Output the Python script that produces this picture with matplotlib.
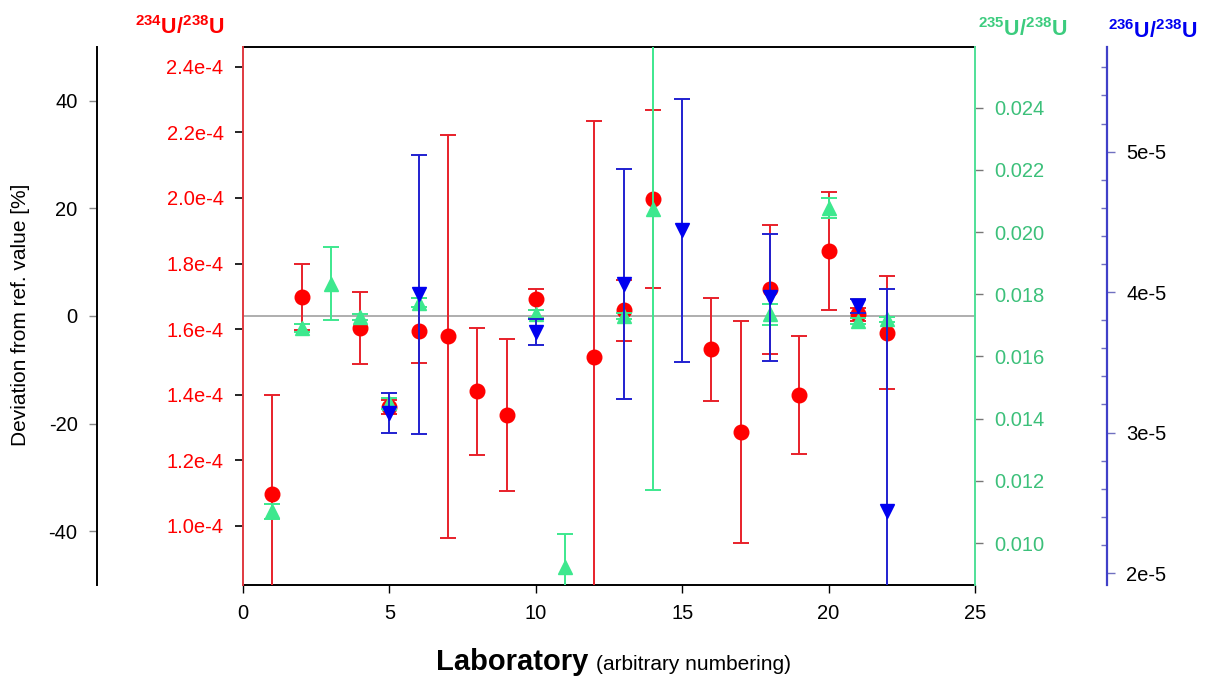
import matplotlib
matplotlib.use('Agg')
import matplotlib.pyplot as plt
import numpy as np
from matplotlib.ticker import FixedLocator, FuncFormatter, MultipleLocator

plt.rcParams['font.family'] = ['Liberation Sans', 'DejaVu Sans']
plt.rcParams['mathtext.fontset'] = 'custom'
plt.rcParams['mathtext.rm'] = 'Liberation Sans:bold'
plt.rcParams['mathtext.bf'] = 'Liberation Sans:bold'
plt.rcParams['axes.unicode_minus'] = False

# deviation from reference value in %, per laboratory
labs_234 = [1, 2, 4, 5, 6, 7, 8, 9, 10, 12, 13, 14, 16, 17, 18, 19, 20, 21, 22]
dev_234 = [-33.1, 3.5, -2.2, -17.0, -2.7, -3.8, -14.0, -18.4, 3.1, -7.6, 1.05, 21.7,
           -6.2, -21.5, 5.0, -14.7, 12.1, 0.3, -3.1]
err_234 = [18.4, 6.1, 6.7, 1.3, 6.0, 37.5, 11.8, 14.2, 1.9, 43.9, 5.7, 16.5,
           9.6, 20.6, 12.0, 11.0, 10.9, 1.2, 10.5]

labs_235 = [1, 2, 3, 4, 5, 6, 10, 11, 13, 14, 18, 20, 21, 22]
dev_235 = [-36.3, -2.2, 6.0, -0.2, -16.2, 2.5, 0.4, -46.6, 0.0, 19.9, 0.3, 20.1, -0.9, -0.6]
err_235 = [1.4, 0.7, 6.8, 0.5, 1.0, 0.8, 0.8, 6.0, 0.6, 52.3, 1.9, 1.85, 0.5, 0.5]

labs_236 = [5, 6, 10, 13, 15, 18, 21, 22]
dev_236 = [-18.0, 4.0, -2.9, 5.9, 15.9, 3.5, 1.9, -36.2]
err_236 = [3.7, 26.0, 2.4, 21.4, 24.4, 11.8, 1.3, 41.3]

# reference ratios (0 % deviation)
ref_234 = 1.64e-4
ref_235 = 0.0173
ref_236 = 3.83e-5

red = '#ff0000'
red_bar = '#e8202a'
green = '#3de88e'
green_txt = '#3cc07a'
blue = '#0000f0'
blue_bar = '#2020d0'
fs = 14.5

fig = plt.figure(figsize=(12.14, 6.8), dpi=100)
ax = fig.add_axes([0.2002, 0.1397, 0.6029, 0.7912])

ax.axhline(0, color='#a8a8a8', lw=1.3, zorder=1)

ax.errorbar(labs_234, dev_234, yerr=err_234, fmt='o', color=red, ecolor=red_bar,
            ms=10.5, capsize=6, elinewidth=1.4, capthick=1.4, zorder=3)
ax.errorbar(labs_235, dev_235, yerr=err_235, fmt='^', color=green, ecolor=green,
            ms=10, capsize=6, elinewidth=1.4, capthick=1.4, zorder=4)
ax.errorbar(labs_236, dev_236, yerr=err_236, fmt='v', color=blue, ecolor=blue_bar,
            ms=10, capsize=6, elinewidth=1.4, capthick=1.4, zorder=5)

ax.set_xlim(0, 25)
ax.set_ylim(-50, 50)
ax.set_xticks(np.arange(0, 26, 5))
ax.set_yticks([-40, -20, 0, 20, 40])
ax.tick_params(axis='both', direction='out', length=6, width=1, labelsize=fs,
               colors='black')
ax.tick_params(axis='y', color='#888888', pad=8)
ax.tick_params(axis='x', pad=8)
ax.spines['right'].set_visible(False)
ax.spines['left'].set_position(('axes', -0.1995))
for s in ['left', 'top', 'bottom']:
    ax.spines[s].set_color('black')
    ax.spines[s].set_linewidth(1.4)

# red axis: 234U/238U
ax2 = ax.twinx()
ax2.set_ylim(ref_234 * 0.5, ref_234 * 1.5)
ax2.yaxis.set_ticks_position('left')
ax2.spines['left'].set_position(('axes', 0))
ax2.yaxis.set_major_locator(FixedLocator(np.arange(1.0e-4, 2.45e-4, 0.2e-4)))
ax2.yaxis.set_major_formatter(FuncFormatter(lambda v, p: '%.1fe-4' % (v * 1e4)))
ax2.tick_params(axis='y', direction='out', length=6, width=1.2, color='black',
                labelcolor=red, labelsize=fs, pad=8)
for s in ['right', 'top', 'bottom']:
    ax2.spines[s].set_visible(False)
ax2.spines['left'].set_color('#e03a40')
ax2.spines['left'].set_linewidth(1.4)

# green axis: 235U/238U
ax3 = ax.twinx()
ax3.set_ylim(ref_235 * 0.5, ref_235 * 1.5)
ax3.yaxis.set_major_locator(FixedLocator(np.arange(0.010, 0.0245, 0.002)))
ax3.yaxis.set_major_formatter(FuncFormatter(lambda v, p: '%.3f' % v))
ax3.tick_params(axis='y', direction='out', length=6, width=1, color='#777777',
                labelcolor=green_txt, labelsize=fs, pad=8)
for s in ['left', 'top', 'bottom']:
    ax3.spines[s].set_visible(False)
ax3.spines['right'].set_color('#50e098')
ax3.spines['right'].set_linewidth(1.4)

# blue axis: 236U/238U
ax4 = ax.twinx()
ax4.set_ylim(ref_236 * 0.5, ref_236 * 1.5)
ax4.spines['right'].set_position(('axes', 1.1803))
ax4.yaxis.set_major_locator(FixedLocator([2e-5, 3e-5, 4e-5, 5e-5]))
ax4.yaxis.set_minor_locator(MultipleLocator(0.2e-5))
ax4.yaxis.set_major_formatter(FuncFormatter(lambda v, p: '%de-5' % round(v * 1e5)))
ax4.tick_params(axis='y', which='major', direction='out', length=6, width=1,
                color='#7070c0', labelcolor='black', labelsize=fs, pad=8)
ax4.tick_params(axis='y', which='minor', direction='in', length=4, width=1,
                color='#7070c0')
for s in ['left', 'top', 'bottom']:
    ax4.spines[s].set_visible(False)
ax4.spines['right'].set_color('#4040c8')
ax4.spines['right'].set_linewidth(1.6)

# axis titles
fig.text(135 / 1214, 1 - 28 / 680, r'$^{234}$U/$^{238}$U', color=red, fontsize=15.5,
         fontweight='bold', ha='left', va='center')
fig.text(978 / 1214, 1 - 30 / 680, r'$^{235}$U/$^{238}$U', color='#3ccc7e', fontsize=15.5,
         fontweight='bold', ha='left', va='center')
fig.text(1108 / 1214, 1 - 32 / 680, r'$^{236}$U/$^{238}$U', color=blue, fontsize=15.5,
         fontweight='bold', ha='left', va='center')

fig.text(21 / 1214, 1 - 315 / 680, 'Deviation from ref. value [%]', rotation=90,
         fontsize=15, ha='center', va='center')

fig.text(588 / 1214, 1 - 670 / 680, 'Laboratory', fontsize=21, fontweight='bold',
         ha='right', va='baseline')
fig.text(596 / 1214, 1 - 670 / 680, '(arbitrary numbering)', fontsize=15,
         ha='left', va='baseline')

fig.savefig('out.png', dpi=100)
